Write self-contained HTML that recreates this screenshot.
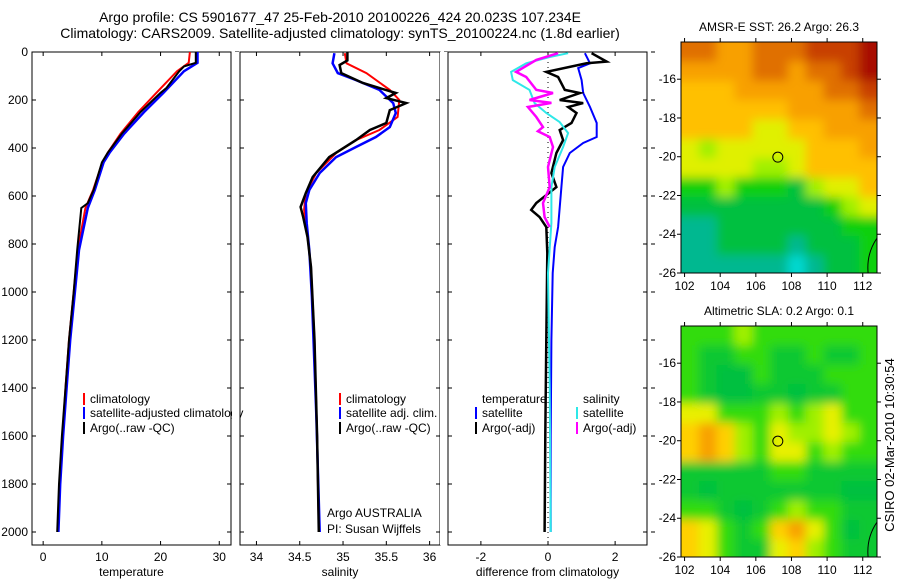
<!DOCTYPE html>
<html><head><meta charset="utf-8"><style>
html,body{margin:0;padding:0;background:#fff;}
svg{display:block;font-family:"Liberation Sans",sans-serif;}
</style></head><body>
<svg id="fig" width="900" height="580" viewBox="0 0 900 580" xmlns="http://www.w3.org/2000/svg">
<defs>
<filter id="mapblur" x="-10%" y="-10%" width="120%" height="120%"><feGaussianBlur stdDeviation="5"/></filter>
</defs>
<text x="340" y="22" font-size="14" text-anchor="middle">Argo profile: CS 5901677_47 25-Feb-2010 20100226_424 20.023S 107.234E</text>
<text x="340" y="38" font-size="14" text-anchor="middle">Climatology: CARS2009. Satellite-adjusted climatology: synTS_20100224.nc (1.8d earlier)</text>
<g id="plots"></g>
<text transform="translate(894,445) rotate(-90)" font-size="13" text-anchor="middle">CSIRO 02-Mar-2010 10:30:54</text>
</svg>
<script>
// ---------- data ----------
const depthTicks=[0,200,400,600,800,1000,1200,1400,1600,1800,2000];
const tempTicks=[0,10,20,30];
const salTicks=[34,34.5,35,35.5,36];
const salTickLabels=["34","34.5","35","35.5","36"];
const diffTicks=[-2,0,2];
const tClimD=[0,45,80,170,250,340,420,460,575,650,825,1000,1200,1400,1600,1800,2000];
const tClimV=[25.0,24.8,22.8,19.3,16.2,13.2,11.0,10.1,8.5,7.2,5.9,5.2,4.4,3.8,3.3,2.8,2.5];
const tSatD=[0,45,80,170,250,340,420,460,575,650,825,1000,1200,1400,1600,1800,2000];
const tSatV=[26.3,26.3,24.0,20.5,17.2,13.8,11.3,10.3,8.8,7.6,6.1,5.4,4.6,4.0,3.4,2.9,2.6];
const tArgoD=[0,45,60,80,150,170,250,340,420,460,575,630,650,825,1000,1200,1400,1600,1800,2000];
const tArgoV=[26.0,26.0,24.0,23.2,21.0,20.0,16.6,13.4,11.0,10.0,8.6,7.6,6.5,5.8,5.2,4.4,3.8,3.2,2.7,2.4];
const sClimD=[5,47,88,158,200,271,325,367,421,504,588,658,771,896,1200,1600,2000];
const sClimV=[35.02,35.04,35.27,35.54,35.65,35.63,35.42,35.15,34.92,34.69,34.57,34.55,34.59,34.63,34.67,34.70,34.72];
const sSatD=[5,47,88,117,158,213,254,313,354,396,438,504,575,629,713,825,1021,1500,2000];
const sSatV=[34.90,34.88,34.94,35.15,35.42,35.58,35.61,35.54,35.38,35.15,34.92,34.73,34.61,34.57,34.58,34.61,34.64,34.69,34.73];
const sArgoD=[0,35,54,88,129,171,192,213,242,296,325,367,438,521,588,646,688,771,896,1200,1600,2000];
const sArgoV=[35.05,35.05,34.96,34.98,35.23,35.61,35.50,35.73,35.54,35.50,35.31,35.15,34.84,34.65,34.57,34.51,34.54,34.59,34.63,34.67,34.70,34.72];
const dTSatD=[5,47,67,117,171,229,296,354,379,421,479,563,729,813,921,1200,1600,2000];
const dTSatV=[1.1,1.25,0.9,1.0,1.05,1.25,1.45,1.45,1.05,0.65,0.45,0.4,0.3,0.2,0.14,0.1,0.08,0.08];
const dTArgoD=[5,40,47,83,104,158,171,200,213,229,254,296,325,367,421,504,563,629,658,688,729,838,1200,1600,2000];
const dTArgoV=[1.3,1.75,1.15,-0.05,0.3,0.5,0.95,0.35,1.05,0.6,0.85,0.7,0.35,0.45,0.25,0.1,0.25,-0.35,-0.5,-0.25,-0.05,-0.02,-0.05,-0.08,-0.1];
const dSSatD=[5,21,47,83,117,158,213,254,292,338,396,479,563,713,921,1400,2000];
const dSSatV=[0.6,0.05,-0.65,-1.1,-1.05,-0.55,-0.4,-0.05,0.35,0.6,0.45,0.2,0.1,0.1,0.0,0.05,0.08];
const dSArgoD=[5,33,83,104,158,171,200,212,229,271,313,330,354,396,479,563,629,688,729];
const dSArgoV=[0.3,-0.35,-0.95,-0.65,-0.35,0.15,-0.55,0.1,-0.6,-0.35,-0.15,-0.3,0.05,0.15,0.0,0.05,-0.15,-0.1,0.05];
const lonTicks=[102,104,106,108,110,112];
const latTicks=[-16,-18,-20,-22,-24,-26];
const sstGrid=[
[8,8,7,7,8,8,8,9,9,9,10],
[7,7,7,7,8,8,7,8,8,9,10],
[6,6,6,7,7,7,7,7,8,8,9],
[6,6,6,6,6,6,7,7,7,7,8],
[6,6,6,6,5,5,6,6,7,7,7],
[5,4,5,5,5,5,5,6,6,6,7],
[5,5,5,5,4,4,5,6,6,6,6],
[3,3,4,3,3,3,2,4,5,5,6],
[2,2,2,2,2,2,2,2,3,4,5],
[1,1,2,2,2,2,2,2,2,3,3],
[1,1,2,2,2,2,1,2,2,2,3],
[1,1,1,1,1,1,0,1,2,2,3]];
const slaGrid=[
[3,3,3,4,3,3,3,3,3,3,3],
[3,2,2,3,3,2,2,3,2,2,3],
[3,2,1,1,3,2,2,2,3,3,3],
[3,2,1,1,2,2,1,2,2,3,3],
[5,5,3,3,3,4,3,4,5,3,3],
[6,7,6,4,3,5,4,4,5,4,3],
[6,7,6,4,3,5,5,3,4,3,3],
[2,2,2,2,2,3,3,2,2,2,2],
[2,1,2,2,2,2,2,2,2,1,1],
[3,3,2,1,2,3,4,3,3,2,2],
[6,5,3,2,3,6,7,5,3,1,2],
[6,5,3,2,2,5,6,4,3,2,2]];
const argoLon=107.234, argoLat=-20.023;

// ---------- drawing ----------
const NS="http://www.w3.org/2000/svg";
const root=document.getElementById('plots');
const defs=document.querySelector('defs');
function mk(tag,attrs,parent){const e=document.createElementNS(NS,tag);for(const k in attrs)e.setAttribute(k,attrs[k]);(parent||root).appendChild(e);return e;}
const yTop=52, yBot=545;
function yD(d){return yTop+d*0.24;}
const panels=[
 {x0:32,x1:231,vmin:-1.9,vmax:32,ticks:tempTicks,labels:tempTicks.map(String),xlabel:"temperature",name:"temperature"},
 {x0:240,x1:440,vmin:33.81,vmax:36.12,ticks:salTicks,labels:salTickLabels,xlabel:"salinity",name:"salinity"},
 {x0:448,x1:647,vmin:-2.98,vmax:2.95,ticks:diffTicks,labels:diffTicks.map(String),xlabel:"difference from climatology",name:"difference"}];
function xf(p,v){return p.x0+(v-p.vmin)/(p.vmax-p.vmin)*(p.x1-p.x0);}
function line(p,D,V,color,w,name,clip){
  const pts=D.map((d,i)=>xf(p,V[i]).toFixed(1)+","+yD(d).toFixed(1)).join(" ");
  const el=mk('polyline',{points:pts,fill:"none",stroke:color,"stroke-width":w,"clip-path":"url(#"+clip+")"});
  
  
}
panels.forEach((p,i)=>{
  const cp=mk('clipPath',{id:'clip'+i},defs);
  mk('rect',{x:p.x0,y:yTop,width:p.x1-p.x0,height:yBot-yTop},cp);
});
panels.forEach((p,i)=>{
  const g=mk('g',{});
  
  
  mk('rect',{x:p.x0-8,y:yTop,width:p.x1-p.x0+8,height:yBot-yTop,fill:"#fff"},g);
  mk('rect',{x:p.x0,y:yTop,width:p.x1-p.x0,height:yBot-yTop,fill:"none",stroke:"#000","stroke-width":1},g);
  depthTicks.forEach(d=>{
    mk('line',{x1:p.x0,x2:p.x0+4,y1:yD(d),y2:yD(d),stroke:"#000"},g);
    mk('line',{x1:p.x1-4,x2:p.x1,y1:yD(d),y2:yD(d),stroke:"#000"},g);
    mk('line',{x1:p.x1+4,x2:p.x1+8,y1:yD(d),y2:yD(d),stroke:"#000"},g);
    if(i===0){const t=mk('text',{x:p.x0-4,y:yD(d)+4,"font-size":12,"text-anchor":"end"},g);t.textContent=d;
      }
  });
  p.ticks.forEach((v,k)=>{
    const x=xf(p,v);
    mk('line',{x1:x,x2:x,y1:yTop,y2:yTop+4,stroke:"#000"},g);
    mk('line',{x1:x,x2:x,y1:yBot-4,y2:yBot,stroke:"#000"},g);
    const t=mk('text',{x:x,y:yBot+16,"font-size":12,"text-anchor":"middle"},g);t.textContent=p.labels[k];
    
  });
  const xl=mk('text',{x:(p.x0+p.x1)/2,y:yBot+31,"font-size":12,"text-anchor":"middle"},g);xl.textContent=p.xlabel;
  
  if(i===0){
    line(p,tClimD,tClimV,"#f00",2,"temp-climatology-line","clip0");
    line(p,tSatD,tSatV,"#00f",2.5,"temp-satellite-line","clip0");
    line(p,tArgoD,tArgoV,"#000",2,"temp-argo-line","clip0");
  } else if(i===1){
    line(p,sClimD,sClimV,"#f00",2,"sal-climatology-line","clip1");
    line(p,sSatD,sSatV,"#00f",2.5,"sal-satellite-line","clip1");
    line(p,sArgoD,sArgoV,"#000",2.5,"sal-argo-line","clip1");
  } else {
    const x0=xf(p,0);
    mk('line',{x1:x0,x2:x0,y1:yTop,y2:yBot,stroke:"#000","stroke-dasharray":"1,4"},g);
    line(p,dTSatD,dTSatV,"#00f",2,"diff-temp-satellite-line","clip2");
    line(p,dTArgoD,dTArgoV,"#000",2.5,"diff-temp-argo-line","clip2");
    line(p,dSSatD,dSSatV,"#2ee8e8",2,"diff-sal-satellite-line","clip2");
    line(p,dSArgoD,dSArgoV,"#f0f",2.5,"diff-sal-argo-line","clip2");
  }
});
function leg(x,y,color,label,name){
  const g=mk('g',{});
  
  
  if(color) mk('rect',{x:x,y:y-10,width:2,height:12,fill:color},g);
  const t=mk('text',{x:x+7,y:y,"font-size":12},g);t.textContent=label;
  return g;
}
leg(83,403,"#f00","climatology","legend-climatology");
leg(83,417,"#00f","satellite-adjusted climatology","legend-satellite-adjusted");
leg(83,432,"#000","Argo(..raw -QC)","legend-argo-raw");
mk('rect',{x:232,y:390,width:8,height:50,fill:"#fff"});
mk('line',{x1:231,x2:231,y1:390,y2:440,stroke:"#000"});
mk('line',{x1:240,x2:240,y1:390,y2:440,stroke:"#000"});
leg(339,403,"#f00","climatology","legend-sal-climatology");
leg(339,417,"#00f","satellite adj. clim.","legend-sal-satellite");
leg(339,432,"#000","Argo(..raw -QC)","legend-sal-argo");
leg(475,403,null,"temperature","legend-temperature-header");
leg(475,417,"#00f","satellite","legend-temp-satellite");
leg(475,432,"#000","Argo(-adj)","legend-temp-argo");
leg(576,403,null,"salinity","legend-salinity-header");
leg(576,417,"#2ee8e8","satellite","legend-sal-sat-diff");
leg(576,432,"#f0f","Argo(-adj)","legend-sal-argo-diff");
leg(320,517,null,"Argo AUSTRALIA","argo-australia-label");
leg(320,533,null,"PI: Susan Wijffels","pi-label");

// maps
const sstCols=["#00d8d0","#00b890","#00c040","#10d010","#a0f000","#e0f000","#ffc000","#f8a000","#e07000","#c84000","#a81000"];
const slaCols=["#00b890","#00c040","#10c830","#30dc10","#a0f000","#e8f000","#ffd000","#f8a000"];
function drawMap(m){
  const g=mk('g',{});
  
  
  const lx=v=>m.x0+(v-101.8)/(112.8-101.8)*(m.x1-m.x0);
  const ly=v=>m.y0+(-14.08-v)/(26-14.08)*(m.y1-m.y0);
  const cp=mk('clipPath',{id:m.name+'-clip'},defs);
  mk('rect',{x:m.x0,y:m.y0,width:m.x1-m.x0,height:m.y1-m.y0},cp);
  const cg=mk('g',{"clip-path":"url(#"+m.name+"-clip)"},g);
  const bg=mk('g',{filter:"url(#mapblur)"},cg);
  const nR=m.grid.length, nC=m.grid[0].length, ext=20;
  m.grid.forEach((row,r)=>row.forEach((v,c)=>{
    let xa=lx(101.8+c),xb=lx(102.8+c),ya=ly(-14.08-r),yb=ly(-15.08-r);
    if(c===0)xa-=ext; if(c===nC-1)xb+=ext; if(r===0)ya-=ext; if(r===nR-1)yb+=ext;
    const cell=mk('rect',{x:xa,y:ya,width:xb-xa+0.6,height:yb-ya+0.6,fill:m.cols[v]},bg);
    
    
  }));
  mk('path',{d:`M${lx(112.8)} ${ly(-24.2)} Q${lx(112.2)} ${ly(-25)} ${lx(112.3)} ${ly(-26)}`,fill:"none",stroke:"#000"},cg);
  mk('rect',{x:m.x0,y:m.y0,width:m.x1-m.x0,height:m.y1-m.y0,fill:"none",stroke:"#000"},g);
  const c=mk('circle',{cx:lx(argoLon),cy:ly(argoLat),r:5,fill:"none",stroke:"#000"},g);
  
  lonTicks.forEach(v=>{const x=lx(v);
    mk('line',{x1:x,x2:x,y1:m.y0-4,y2:m.y0,stroke:"#000"},g);
    mk('line',{x1:x,x2:x,y1:m.y1,y2:m.y1+4,stroke:"#000"},g);
    const t=mk('text',{x:x,y:m.y1+17,"font-size":12,"text-anchor":"middle"},g);t.textContent=v;
    });
  latTicks.forEach(v=>{const y=ly(v);
    mk('line',{x1:m.x0-4,x2:m.x0,y1:y,y2:y,stroke:"#000"},g);
    mk('line',{x1:m.x1,x2:m.x1+4,y1:y,y2:y,stroke:"#000"},g);
    const t=mk('text',{x:m.x0-5,y:y+4,"font-size":12,"text-anchor":"end"},g);t.textContent=v;
    });
  const tt=mk('text',{x:(m.x0+m.x1)/2,y:m.y0-11,"font-size":12,"text-anchor":"middle"},g);tt.textContent=m.title;
  
}
drawMap({name:"sst-map",x0:681,x1:877,y0:42,y1:273,grid:sstGrid,cols:sstCols,title:"AMSR-E SST: 26.2 Argo: 26.3"});
drawMap({name:"sla-map",x0:681,x1:877,y0:326,y1:557,grid:slaGrid,cols:slaCols,title:"Altimetric SLA: 0.2 Argo: 0.1"});
</script>
</body></html>
